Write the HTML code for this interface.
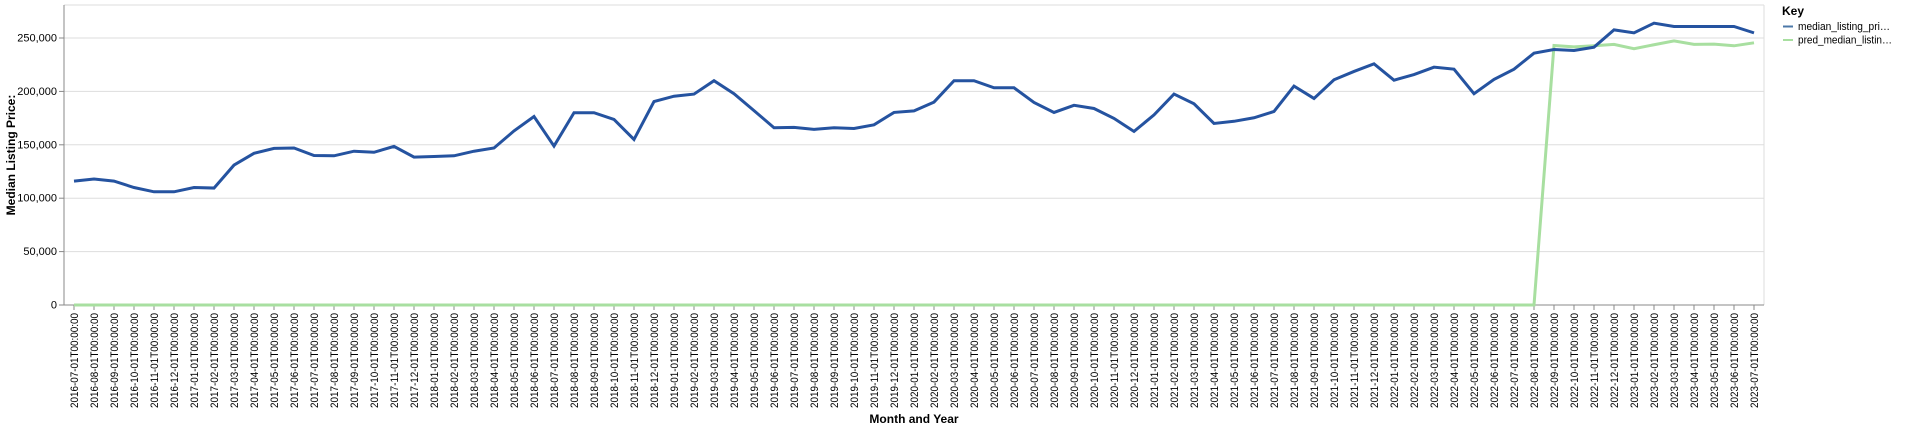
<!DOCTYPE html>
<html><head><meta charset="utf-8"><style>
body{margin:0;background:#fff;}
svg text{font-family:"Liberation Sans",Arial,sans-serif;}
</style></head><body>
<svg id="chart" width="1920" height="429" xmlns="http://www.w3.org/2000/svg">
<g id="grid"></g>
<g id="yaxis"></g>
<g id="xaxis"></g>
<g id="series"></g>
<text transform="translate(15,155) rotate(-90)" text-anchor="middle" font-size="12" font-weight="bold" fill="#000">Median Listing Price:</text>
<text x="914" y="423" text-anchor="middle" font-size="12" font-weight="bold" fill="#000">Month and Year</text>
<g>
<text x="1782" y="15" font-size="12" font-weight="bold" fill="#000">Key</text>
<g><line x1="1783" y1="26.5" x2="1793" y2="26.5" stroke="#4c78a8" stroke-width="2"/><text x="1798" y="30" font-size="11" fill="#000" textLength="92" lengthAdjust="spacingAndGlyphs">median_listing_pri…</text></g>
<g><line x1="1783" y1="40" x2="1793" y2="40" stroke="#a8dfa0" stroke-width="2"/><text x="1798" y="43.5" font-size="11" fill="#000" textLength="94" lengthAdjust="spacingAndGlyphs">pred_median_listin…</text></g>
</g>
</svg>
<script>
const medianValues=[116,118,116,110,106,106,110,109.5,131,142,146.6,147,140,139.7,144,143,148.5,138.5,139,139.7,144,147,163,176.5,148.8,180,180,173.7,155,190.5,195.5,197.5,210,197.8,182,166,166.3,164.4,166,165.3,168.7,180.3,181.8,190,210,210,203.4,203.4,189.6,180.3,187,184,174.7,162.5,178,197.5,188.4,170,172,175.3,181.2,205,193.4,210.9,218.7,225.8,210.5,215.8,222.7,220.8,197.8,211.2,220.8,235.8,239.2,238.3,241.4,257.6,254.8,263.9,260.8,260.8,260.8,260.8,254.8];
const predValues=[0,0,0,0,0,0,0,0,0,0,0,0,0,0,0,0,0,0,0,0,0,0,0,0,0,0,0,0,0,0,0,0,0,0,0,0,0,0,0,0,0,0,0,0,0,0,0,0,0,0,0,0,0,0,0,0,0,0,0,0,0,0,0,0,0,0,0,0,0,0,0,0,0,0,243,241.7,242.7,244,240,243.7,247.3,244,244.3,242.7,245.5];
const yTicks=[0,50000,100000,150000,200000,250000];
const startYear=2016,startMonth=7,nMonths=85;
const categories=[];
for(let i=0;i<nMonths;i++){const m=startMonth-1+i;const y=startYear+Math.floor(m/12);const mm=(m%12)+1;categories.push(y+'-'+String(mm).padStart(2,'0')+'-01T00:00:00');}
const NS='http://www.w3.org/2000/svg';
const L=64,R=1764,T=5,B=305;
const step=(R-L)/categories.length;
function xs(i){return L+step*(i+0.5);}
function ys(v){return B-v*1.068/1000;}
function mk(t,a,p){const e=document.createElementNS(NS,t);for(const k in a)e.setAttribute(k,a[k]);p.appendChild(e);return e;}
const grid=document.getElementById('grid'),ya=document.getElementById('yaxis'),xa=document.getElementById('xaxis'),se=document.getElementById('series');
yTicks.forEach(v=>{const y=ys(v);
const g=mk('line',{x1:L,x2:R,y1:y,y2:y,stroke:'#ddd','stroke-width':1},grid);


mk('line',{x1:L-5,x2:L,y1:y,y2:y,stroke:'#888'},ya);
const t=mk('text',{x:L-7,y:y+3.5,'text-anchor':'end','font-size':11,fill:'#000'},ya);
t.textContent=v.toLocaleString('en-US');


});
mk('line',{x1:R,x2:R,y1:T,y2:B,stroke:'#ddd'},grid);
mk('line',{x1:L,x2:R,y1:T,y2:T,stroke:'#ddd'},grid);
mk('line',{x1:L,x2:L,y1:T,y2:B,stroke:'#888'},ya);
mk('line',{x1:L,x2:R,y1:B,y2:B,stroke:'#888'},xa);
categories.forEach((c,i)=>{const x=xs(i);
mk('line',{x1:x,x2:x,y1:B,y2:B+5,stroke:'#888'},xa);
const t=mk('text',{transform:'translate('+(x+4)+','+(B+8)+') rotate(-90)','text-anchor':'end','font-size':11,fill:'#000',textLength:95,lengthAdjust:'spacingAndGlyphs'},xa);
t.textContent=c;


});
function line(vals,color,name){const d=vals.map((v,i)=>(i?'L':'M')+xs(i).toFixed(2)+','+ys(v*1000).toFixed(2)).join('');
const p=mk('path',{d:d,fill:'none',stroke:color,'stroke-width':3,'stroke-linejoin':'miter'},se);

}
line(predValues,'#a8dfa0','pred-median-line');
line(medianValues,'#2553a0','median-listing-price-line');
</script>
</body></html>
